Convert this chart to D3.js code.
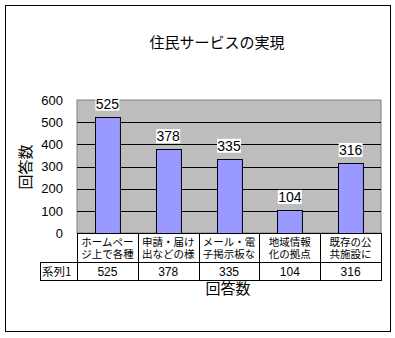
<!DOCTYPE html>
<html><head><meta charset="utf-8">
<script src="https://cdn.jsdelivr.net/npm/d3@7"></script>
<style>body{margin:0;background:#fff}svg{display:block}</style>
</head><body>
<script>
const title = "住民サービスの実現";
const categories = ["ホームページ上で各種","申請・届け出などの様","メール・電子掲示板な","地域情報化の拠点","既存の公共施設に"];
const catLine1 = ["ホームペー","申請・届け","メール・電","地域情報","既存の公"];
const catLine2 = ["ジ上で各種","出などの様","子掲示板な","化の拠点","共施設に"];
const seriesName = "系列1";
const values = [525, 378, 335, 104, 316];
const yTicks = [0, 100, 200, 300, 400, 500, 600];
const axisTitle = "回答数";

const W = 395, H = 338;
const svg = d3.select("body").append("svg").attr("width", W).attr("height", H);
const FONT = "'Liberation Sans','Noto Sans CJK JP',sans-serif";
const CJK = "'Noto Sans CJK JP',sans-serif";

// dithered background pattern
const defs = svg.append("defs");
const pat = defs.append("pattern").attr("id","dith").attr("width",4).attr("height",4).attr("patternUnits","userSpaceOnUse");
const dcols = ["#c0bcc0","#b8c0bc","#c4b8c2","#bcbcb4","#b8bcc4","#c4c0b8","#bcb8bc","#b8c4bc",
               "#c4bcc4","#bcbcc0","#c0c0b8","#b8bcbc","#c4bcb8","#b8b8c4","#bcc4bc","#c0b8bc"];
dcols.forEach((c,i)=>pat.append("rect").attr("x",i%4).attr("y",Math.floor(i/4)).attr("width",1).attr("height",1).attr("fill",c));

// frame
svg.append("rect").attr("x",5.5).attr("y",5.5).attr("width",385).attr("height",326)
  .attr("fill","#fff").attr("stroke","#000");

svg.append("text").attr("x",217).attr("y",44).attr("text-anchor","middle")
  .attr("dominant-baseline","middle").attr("font-family",CJK).attr("font-size",15).text(title);

const x0 = 77, x1 = 381, yTop = 100, yBot = 233;
const y = d3.scaleLinear().domain([0,600]).range([yBot,yTop]);
const x = d3.scaleBand().domain(categories).range([x0,x1]).paddingInner(0.59).paddingOuter(0.295);
const xc = d3.scaleBand().domain(categories).range([x0,x1]);

// plot area
svg.append("rect").attr("x",x0).attr("y",yTop).attr("width",x1-x0).attr("height",yBot-yTop)
  .attr("fill","url(#dith)").attr("stroke","#808080");

// gridlines
svg.append("g").selectAll("line").data(yTicks.filter(t=>t>0&&t<600)).join("line")
  .attr("x1",x0).attr("x2",x1).attr("y1",d=>Math.round(y(d))+0.5).attr("y2",d=>Math.round(y(d))+0.5)
  .attr("stroke","#000");

// y axis labels
const yAxis = d3.axisLeft(y).tickValues(yTicks).tickSize(0).tickPadding(14);
const ga = svg.append("g").attr("transform",`translate(${x0},0)`).call(yAxis);
ga.select(".domain").remove();
ga.selectAll("text").attr("font-family",FONT).attr("font-size",13).attr("fill","#000");

// bars
svg.append("g").selectAll("rect").data(values).join("rect")
  .attr("x",(d,i)=>Math.round(x(categories[i]))+0.5).attr("y",d=>Math.round(y(d))+0.5)
  .attr("width",x.bandwidth()).attr("height",d=>yBot-Math.round(y(d)))
  .attr("fill","#9999ff").attr("stroke","#000");

// value labels
const lab = svg.append("g").selectAll("g").data(values).join("g")
  .attr("transform",(d,i)=>`translate(${x(categories[i])+x.bandwidth()/2},${y(d)-7})`);
lab.append("rect").attr("x",-12).attr("y",-13).attr("width",24).attr("height",14).attr("fill","#fff");
lab.append("text").attr("text-anchor","middle").attr("y",-1).attr("font-family",FONT).attr("font-size",14).text(d=>d);

// axis line
svg.append("line").attr("x1",x0).attr("x2",x1).attr("y1",yBot+0.5).attr("y2",yBot+0.5).attr("stroke","#000");

// data table
const tb = svg.append("g");
const rowTop = 262, rowBot = 280;
tb.selectAll("line.v").data(categories.concat(["__end"])).join("line")
  .attr("x1",(d,i)=>i<5?Math.round(xc(d))+0.5:x1+0.5).attr("x2",(d,i)=>i<5?Math.round(xc(d))+0.5:x1+0.5)
  .attr("y1",yBot).attr("y2",rowBot).attr("stroke","#000");
tb.append("line").attr("x1",40).attr("x2",x1+1).attr("y1",rowTop+0.5).attr("y2",rowTop+0.5).attr("stroke","#000");
tb.append("line").attr("x1",40).attr("x2",x1+1).attr("y1",rowBot+0.5).attr("y2",rowBot+0.5).attr("stroke","#000");
tb.append("line").attr("x1",40.5).attr("x2",40.5).attr("y1",rowTop).attr("y2",rowBot+1).attr("stroke","#000");

const cw = xc.bandwidth();
categories.forEach((c,i)=>{
  const cx = xc(c)+cw/2;
  tb.append("text").attr("x",cx).attr("y",246).attr("text-anchor","middle")
    .attr("font-family",FONT).attr("font-size",10.5).text(catLine1[i]);
  tb.append("text").attr("x",cx).attr("y",258).attr("text-anchor","middle")
    .attr("font-family",FONT).attr("font-size",10.5).text(catLine2[i]);
  tb.append("text").attr("x",cx).attr("y",275.5).attr("text-anchor","middle")
    .attr("font-family",FONT).attr("font-size",12).text(values[i]);
});
tb.append("text").attr("x",42).attr("y",275.5).attr("font-family",CJK).attr("font-size",11.5).text(seriesName);

// axis titles
svg.append("text").attr("x",228).attr("y",290).attr("text-anchor","middle").attr("dominant-baseline","middle")
  .attr("font-family",CJK).attr("font-size",15).text(axisTitle);
svg.append("text").attr("transform","translate(27,167) rotate(-90)").attr("text-anchor","middle")
  .attr("dominant-baseline","middle").attr("font-family",CJK).attr("font-size",15).text(axisTitle);
</script>
</body></html>
